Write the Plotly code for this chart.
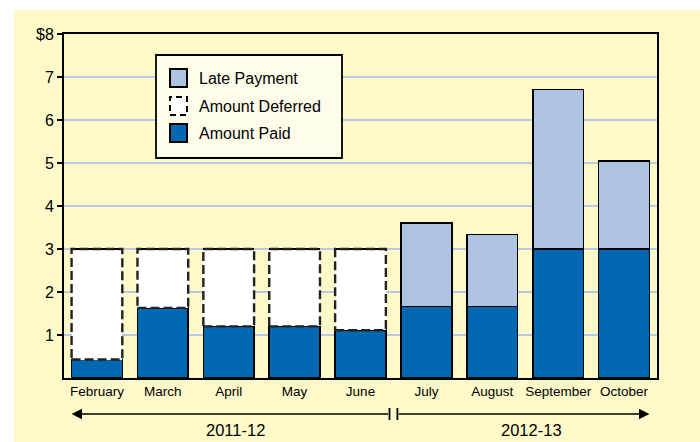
import plotly.graph_objects as go

months = ["February", "March", "April", "May", "June", "July", "August", "September", "October"]
amount_paid = [0.43, 1.63, 1.2, 1.2, 1.11, 1.66, 1.66, 3.0, 3.0]
amount_deferred = [2.57, 1.37, 1.8, 1.8, 1.89, 0, 0, 0, 0]
late_payment = [0, 0, 0, 0, 0, 1.95, 1.68, 3.71, 2.05]
y_ticks = [1, 2, 3, 4, 5, 6, 7, 8]
y_tick_text = ["1", "2", "3", "4", "5", "6", "7", "$8"]
periods = ["2011-12", "2012-13"]

PAID = "#0067B1"
LATE = "#AFC3E3"
YELLOW = "#FEF9C8"
GRID = "#B7C9E6"
FONT = "Liberation Sans, Arial, sans-serif"

W, H = 700, 442
L, R, T, B = 64, 43, 34, 64
PW, PH = W - L - R, H - T - B

def px(x):
    return (x - L) / PW

def py(y):
    return (H - B - y) / PH

BW = 0.77
xs = list(range(len(months)))

fig = go.Figure()
fig.add_trace(go.Bar(x=xs, y=amount_paid, width=BW, marker=dict(color=PAID, line=dict(color="black", width=1.6)),
                     name="Amount Paid", showlegend=False))
fig.add_trace(go.Bar(x=xs, y=amount_deferred, width=BW, marker=dict(color="white", line=dict(color="white", width=0)),
                     name="Amount Deferred", showlegend=False))
fig.add_trace(go.Bar(x=xs, y=late_payment, width=BW, marker=dict(color=LATE, line=dict(color="black", width=1.6)),
                     name="Late Payment", showlegend=False))

shapes = []
# yellow background
shapes.append(dict(type="rect", xref="paper", yref="paper", x0=px(14), x1=px(700), y0=py(442), y1=py(10),
                   fillcolor=YELLOW, line=dict(width=0), layer="below"))
# dashed outlines for deferred amounts
for i, (p, d) in enumerate(zip(amount_paid, amount_deferred)):
    if d > 0:
        shapes.append(dict(type="rect", xref="x", yref="y", x0=i - BW / 2, x1=i + BW / 2, y0=p, y1=p + d,
                           line=dict(color="#222222", width=2.4, dash="9px,4px"), fillcolor="rgba(0,0,0,0)", layer="above"))

# legend box
shapes.append(dict(type="rect", xref="paper", yref="paper", x0=px(156), x1=px(342), y0=py(158), y1=py(55),
                   fillcolor="#FFFDEA", line=dict(color="black", width=1.8), layer="above"))
legend_items = [("Late Payment", LATE, "solid", 78), ("Amount Deferred", "white", "dash", 106), ("Amount Paid", PAID, "solid", 133)]
annotations = []
for name, col, dash, cy in legend_items:
    shapes.append(dict(type="rect", xref="paper", yref="paper", x0=px(170), x1=px(187), y0=py(cy + 9), y1=py(cy - 9),
                       fillcolor=col, line=dict(color="black", width=2, dash="6px,4px" if dash == "dash" else "solid"),
                       layer="above"))
    annotations.append(dict(xref="paper", yref="paper", x=px(197), y=py(cy), text=name, showarrow=False,
                            xanchor="left", yanchor="middle", font=dict(family=FONT, size=16, color="black")))

# period arrows
ay = py(414)
annotations.append(dict(xref="x", yref="paper", x=-BW / 2, y=ay, ax=4.44, ay=0, axref="x", ayref="pixel",
                        showarrow=True, arrowhead=2, arrowsize=1.3, arrowwidth=1.6, arrowcolor="black", text=""))
annotations.append(dict(xref="x", yref="paper", x=8 + BW / 2, y=ay, ax=4.56, ay=0, axref="x", ayref="pixel",
                        showarrow=True, arrowhead=2, arrowsize=1.3, arrowwidth=1.6, arrowcolor="black", text=""))
for xv in (4.44, 4.56):
    shapes.append(dict(type="line", xref="x", yref="paper", x0=xv, x1=xv, y0=py(420), y1=py(408),
                       line=dict(color="black", width=1.8)))
annotations.append(dict(xref="x", yref="paper", x=2.1, y=py(430), text=periods[0], showarrow=False,
                        font=dict(family=FONT, size=16.5, color="black"), yanchor="middle"))
annotations.append(dict(xref="x", yref="paper", x=6.6, y=py(430), text=periods[1], showarrow=False,
                        font=dict(family=FONT, size=16.5, color="black"), yanchor="middle"))

fig.update_layout(
    width=W, height=H, barmode="stack",
    margin=dict(l=L, r=R, t=T, b=B, autoexpand=False),
    paper_bgcolor="white", plot_bgcolor="rgba(0,0,0,0)",
    shapes=shapes, annotations=annotations, showlegend=False,
    font=dict(family=FONT, color="black"),
)
fig.update_xaxes(range=[-0.5, 8.5], tickvals=xs, ticktext=months, showgrid=False, zeroline=False,
                 showline=True, linecolor="black", linewidth=2, mirror=True, ticks="", tickangle=0,
                 tickfont=dict(family=FONT, size=13.5, color="black"))
fig.update_yaxes(range=[0, 8], tickvals=y_ticks, ticktext=y_tick_text, showgrid=True, gridcolor=GRID, gridwidth=2,
                 zeroline=False, showline=True, linecolor="black", linewidth=2, mirror=True,
                 ticks="outside", ticklen=5, tickwidth=1.5, tickcolor="black",
                 tickfont=dict(family=FONT, size=16, color="black"))

fig.write_html("out.html", config={"displayModeBar": False},
               post_script="document.body.style.margin='0px';document.body.style.padding='0px';")
